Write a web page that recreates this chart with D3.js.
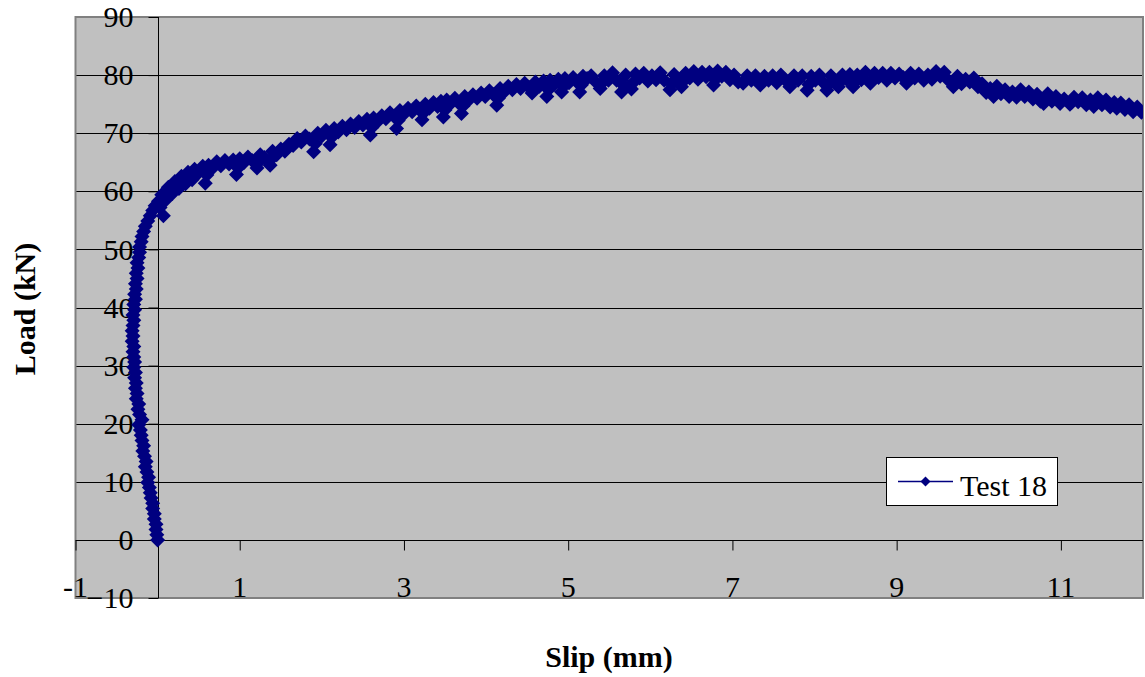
<!DOCTYPE html>
<html><head><meta charset="utf-8">
<script src="https://cdn.jsdelivr.net/npm/d3@7"></script>
<style>body{margin:0;background:#fff}svg{display:block}text{font-family:"Liberation Serif","Times New Roman",serif}</style>
</head><body><svg id="c" width="1145" height="677"></svg>
<script>
const seriesName = "Test 18";
const xTicks = [-1, 1, 3, 5, 7, 9, 11];
const yTicks = [-10, 0, 10, 20, 30, 40, 50, 60, 70, 80, 90];
const xTitle = "Slip (mm)";
const yTitle = "Load (kN)";
const slip = [0,-0.01,-0.02,-0.02,-0.04,-0.04,-0.06,-0.06,-0.08,-0.09,-0.10,-0.12,-0.11,-0.13,-0.15,-0.14,-0.16,-0.18,-0.17,-0.19,-0.20,-0.21,-0.23,-0.19,-0.22,-0.24,-0.23,-0.26,-0.25,-0.27,-0.26,-0.28,-0.27,-0.29,-0.28,-0.29,-0.30,-0.29,-0.31,-0.30,-0.31,-0.30,-0.29,-0.30,-0.28,-0.29,-0.27,-0.28,-0.26,-0.27,-0.25,-0.26,-0.24,-0.25,-0.23,-0.22,-0.22,-0.20,-0.19,-0.17,-0.15,-0.12,-0.09,-0.06,-0.03,0.07,0.03,0.10,0.18,0.26,0.34,0.42,0.01,0.05,0.09,0.13,0.17,0.21,0.25,0.29,0.33,0.37,0.41,0.45,0.50,0.55,0.58,0.60,0.62,0.67,0.72,0.77,0.82,0.87,0.92,0.96,0.98,1.00,1.05,1.10,1.15,1.21,1.23,1.25,1.30,1.37,1.38,1.40,1.45,1.50,1.55,1.60,1.65,1.70,1.75,1.80,1.85,1.90,1.92,1.95,2.00,2.05,2.10,2.12,2.15,2.20,2.25,2.30,2.35,2.40,2.45,2.50,2.55,2.59,2.61,2.63,2.68,2.73,2.78,2.83,2.88,2.91,2.93,2.95,3.00,3.05,3.10,3.15,3.19,3.22,3.24,3.26,3.31,3.36,3.41,3.45,3.48,3.50,3.52,3.57,3.62,3.66,3.70,3.72,3.74,3.79,3.84,3.89,3.94,3.99,4.04,4.09,4.13,4.15,4.17,4.22,4.27,4.32,4.37,4.42,4.47,4.52,4.56,4.58,4.60,4.65,4.70,4.74,4.76,4.78,4.83,4.88,4.92,4.94,4.96,5.01,5.06,5.10,5.14,5.16,5.18,5.23,5.28,5.33,5.39,5.41,5.44,5.49,5.54,5.59,5.65,5.67,5.70,5.77,5.79,5.82,5.87,5.92,5.97,6.02,6.07,6.12,6.17,6.24,6.26,6.29,6.33,6.38,6.40,6.43,6.48,6.53,6.58,6.63,6.68,6.72,6.77,6.79,6.82,6.87,6.92,6.97,7.02,7.07,7.13,7.15,7.18,7.23,7.28,7.34,7.36,7.39,7.44,7.49,7.54,7.59,7.64,7.70,7.72,7.75,7.80,7.85,7.91,7.93,7.96,8.01,8.06,8.10,8.15,8.17,8.20,8.24,8.29,8.31,8.34,8.39,8.43,8.47,8.49,8.52,8.57,8.62,8.68,8.70,8.73,8.78,8.83,8.88,8.93,8.98,9.03,9.08,9.12,9.14,9.17,9.22,9.27,9.33,9.38,9.43,9.48,9.53,9.58,9.63,9.69,9.71,9.74,9.79,9.84,9.89,9.94,9.99,10.04,10.09,10.14,10.18,10.20,10.22,10.27,10.32,10.37,10.41,10.46,10.51,10.56,10.61,10.66,10.71,10.75,10.79,10.81,10.84,10.89,10.94,10.99,11.04,11.11,11.13,11.16,11.21,11.26,11.31,11.36,11.40,11.42,11.45,11.50,11.55,11.60,11.65,11.68,11.73,11.78,11.83,11.88,11.93,11.98];
const load = [0,0.9,1.8,2.7,3.6,4.5,5.4,6.3,7.2,8.1,9.0,9.9,10.8,11.7,12.6,13.5,14.4,15.3,16.2,17.1,18.0,18.9,19.8,20.7,21.6,22.5,23.4,24.3,25.2,26.1,27.0,27.9,28.8,29.7,30.6,31.5,32.4,33.3,34.2,35.1,36.0,36.9,37.8,38.7,39.6,40.5,41.4,42.3,43.2,44.1,45.0,45.9,46.8,47.7,48.6,49.5,50.4,51.3,52.2,53.1,54.0,54.9,55.8,56.7,57.5,55.8,57.2,58.5,59.6,60.5,61.3,62.0,
58.3,59.4,59.3,60.7,60.4,61.7,61.4,62.6,62.2,63.3,62.7,63.8,63.2,64.3,61.4,62.8,64.5,64.0,65.1,64.4,65.3,64.7,65.4,62.9,64.0,65.6,64.9,65.9,65.3,64.0,65.0,66.3,65.8,64.5,65.5,66.9,66.3,67.3,66.9,68.1,67.9,69.1,68.5,69.5,69.0,66.8,68.2,70.0,69.5,70.5,68.0,69.3,70.8,70.2,71.2,70.6,71.6,71.0,72.0,71.4,72.4,69.7,71.0,72.6,72.0,73.0,72.5,73.5,72.9,70.8,72.2,73.9,73.3,74.3,73.7,74.7,74.0,72.3,73.5,75.0,74.3,75.3,74.6,75.5,72.8,74.0,75.7,75.1,76.0,75.3,73.4,74.7,76.3,75.7,76.6,76.0,76.9,76.3,77.3,76.6,74.8,76.0,77.7,77.1,78.1,77.5,78.4,77.7,78.6,77.9,76.9,77.6,78.8,78.1,79.0,76.3,77.5,79.1,78.4,79.3,77.1,78.0,79.4,78.7,79.6,78.9,77.1,78.3,79.8,79.4,79.9,78.9,
77.7,78.6,79.9,79.1,80.4,79.1,77.1,78.3,80.0,77.6,78.7,80.2,79.5,80.3,79.0,79.9,79.2,80.4,79.1,77.5,78.6,80.1,79.4,78.0,78.9,80.3,79.5,80.6,79.3,80.5,79.7,80.5,78.3,79.2,80.7,79.8,80.5,79.2,80.0,78.8,78.6,79.0,79.9,79.1,79.9,78.3,78.8,79.8,79.1,79.9,78.7,80.0,79.2,78.0,78.8,79.9,79.1,79.9,77.4,78.4,79.8,79.1,80.0,78.8,77.4,78.4,79.9,79.2,78.0,78.8,80.0,79.3,80.1,78.0,78.8,80.0,79.2,80.5,78.6,79.2,80.3,79.6,80.3,79.1,80.3,79.5,80.2,79.6,78.6,79.2,80.3,79.5,80.2,79.1,80.0,79.3,80.6,79.8,80.5,79.1,78.0,78.6,79.8,78.5,79.3,78.8,79.5,78.0,78.5,77.0,77.7,76.3,77.0,78.1,76.8,77.5,76.3,77.1,76.2,77.5,76.3,77.1,75.9,76.7,75.5,75.1,75.7,76.8,75.5,76.3,75.1,75.9,75.0,75.3,76.2,75.4,76.1,74.9,75.7,74.6,75.1,76.1,74.9,75.7,74.5,75.3,74.3,75.2,74.1,74.9,73.7,74.5,73.6];

const n = Math.min(slip.length, load.length);
const data = d3.range(n).map(i => ({ s: slip[i], l: load[i] }));
const svg = d3.select("#c");
const L = 75.5, R = 1143, T = 17, B = 598;
const x = d3.scaleLinear().domain([-1, 12]).range([L, R]);
const y = d3.scaleLinear().domain([-10, 90]).range([B, T]);
const navy = "#000080";
const fs = 30;

svg.append("rect").attr("width", 1145).attr("height", 677).attr("fill", "#fff");
svg.append("rect").attr("x", L).attr("y", T).attr("width", R - L).attr("height", B - T)
  .attr("fill", "#c0c0c0");

svg.append("g").selectAll("line").data(yTicks.filter(v => v > -10)).join("line")
  .attr("x1", L).attr("x2", R).attr("y1", d => Math.round(y(d)) + 0.5).attr("y2", d => Math.round(y(d)) + 0.5)
  .attr("stroke", "#000").attr("stroke-width", 1);

svg.append("rect").attr("x", L).attr("y", T).attr("width", R - L).attr("height", B - T)
  .attr("fill", "none").attr("stroke", "#808080").attr("stroke-width", 2);

const yAxis = d3.axisLeft(y).tickValues(yTicks).tickSize(10).tickPadding(15).tickFormat(d3.format("d"));
const gy = svg.append("g").attr("transform", `translate(${Math.round(x(0)) + 0.5},0)`).call(yAxis);
gy.select(".domain").attr("stroke", "#000").attr("d", `M0,${T}V${B}`);
gy.selectAll(".tick line").attr("stroke", "#000");
gy.selectAll("text").attr("font-size", fs).attr("font-family", "Liberation Serif").attr("fill", "#000");

const xAxis = d3.axisBottom(x).tickValues(xTicks).tickSize(10).tickFormat("");
const gx = svg.append("g").attr("transform", `translate(0,${Math.round(y(0)) + 0.5})`).call(xAxis);
gx.select(".domain").attr("stroke", "#000").attr("d", `M${L},0H${R}`);
gx.selectAll(".tick line").attr("stroke", "#000");
svg.append("g").selectAll("text").data(xTicks).join("text")
  .attr("x", d => x(d)).attr("y", B - 1).attr("text-anchor", "middle")
  .attr("font-size", fs).attr("fill", "#000").text(d => d);

svg.append("clipPath").attr("id", "pc").append("rect")
  .attr("x", L).attr("y", T).attr("width", R - L).attr("height", B - T);
const gs = svg.append("g").attr("clip-path", "url(#pc)");
gs.append("path").datum(data)
  .attr("d", d3.line().x(d => x(d.s)).y(d => y(d.l)))
  .attr("fill", "none").attr("stroke", navy).attr("stroke-width", 2);
const dia = "M0,-7.5L7.5,0L0,7.5L-7.5,0Z";
gs.selectAll("path.m").data(data).join("path").attr("class", "m")
  .attr("d", dia).attr("transform", d => `translate(${x(d.s)},${y(d.l)})`).attr("fill", navy);

const lg = svg.append("g");
lg.append("rect").attr("x", 886.5).attr("y", 457.5).attr("width", 171).attr("height", 48)
  .attr("fill", "#fff").attr("stroke", "#000").attr("stroke-width", 1);
lg.append("line").attr("x1", 898).attr("x2", 953).attr("y1", 481.5).attr("y2", 481.5)
  .attr("stroke", navy).attr("stroke-width", 1.5);
lg.append("path").attr("d", "M0,-5L5,0L0,5L-5,0Z").attr("transform", "translate(925.5,481.5)").attr("fill", navy);
lg.append("text").attr("x", 960).attr("y", 496).attr("font-size", fs).attr("fill", "#000").text(seriesName);

svg.append("text").attr("x", 609).attr("y", 667).attr("text-anchor", "middle")
  .attr("font-size", fs).attr("font-weight", "bold").attr("fill", "#000").text(xTitle);
svg.append("text").attr("transform", "translate(35,309) rotate(-90)").attr("text-anchor", "middle")
  .attr("font-size", fs).attr("font-weight", "bold").attr("fill", "#000").text(yTitle);
</script></body></html>
